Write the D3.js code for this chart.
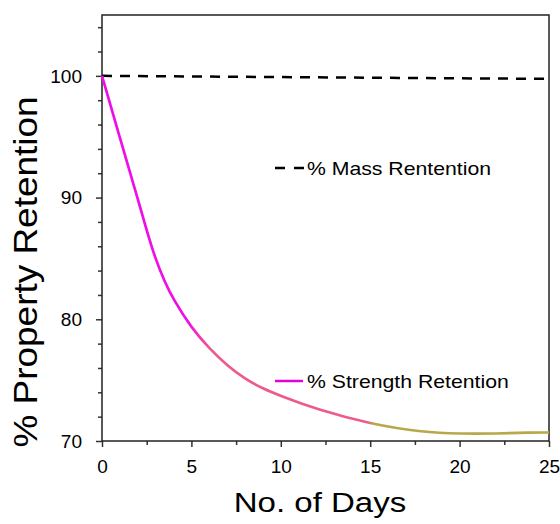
<!DOCTYPE html>
<html>
<head>
<meta charset="utf-8">
<script src="https://cdn.jsdelivr.net/npm/d3@7"></script>
<style>
body{margin:0;background:#fff;}
text{font-family:"Liberation Sans",Arial,sans-serif;fill:#000;}
</style>
</head>
<body>
<svg id="chart" width="560" height="524"></svg>
<script>
const days=[0,1,2,2.5,3,3.5,4,5,6,7,8,9,10,12,15,18,20,22,24,25];
const strength=[100,94.9,89.9,87.3,84.9,83.1,81.6,79.3,77.6,76.2,75.1,74.3,73.7,72.6,71.4,70.7,70.6,70.6,70.7,70.7];
const massDays=[0,5,10,15,20,25];
const mass=[100,99.95,99.9,99.85,99.8,99.75];
const xTicks=[0,5,10,15,20,25];
const yTicks=[70,80,90,100];

const W=560,H=524;
const margin={left:102,right:11,top:15,bottom:83};
const STRETCH=1.18; // text in the picture is wider than plain Arial
const svg=d3.select("#chart");

const x=d3.scaleLinear().domain([0,25]).range([margin.left,W-margin.right]);
const y=d3.scaleLinear().domain([70,105]).range([H-margin.bottom,margin.top]);

// ---------- gradient ----------
const grad=svg.append("defs").append("linearGradient")
    .attr("id","strengthGrad")
    .attr("gradientUnits","userSpaceOnUse")
    .attr("x1",x(0)).attr("x2",x(25))
    .attr("y1",0).attr("y2",0);
[[0,"#f00ee6"],[4.8,"#f00ee6"],[6,"#ee5a8c"],[14.8,"#ee5a8c"],[15.2,"#b7a84a"],[25,"#b7a84a"]]
.forEach(([d,c])=>grad.append("stop").attr("offset",d/25).attr("stop-color",c));

// ---------- axes ----------
const yAxis=svg.append("g")
    .attr("transform",`translate(${margin.left},0)`)
    .call(d3.axisLeft(y).tickValues(d3.range(70,105,2)).tickFormat("").tickSize(4));
yAxis.selectAll(".tick line").filter(d=>d%10===0).attr("x2",-6);
yAxis.selectAll(".tick")
    .filter(d=>yTicks.includes(d))
    .append("text")
    .attr("transform","translate(-20,0) scale(1.06,1)")
    .attr("dy","0.35em")
    .attr("text-anchor","end")
    .attr("font-size",18)
    .text(d=>d);

const xAxis=svg.append("g")
    .attr("transform",`translate(0,${H-margin.bottom})`)
    .call(d3.axisBottom(x).tickValues(d3.range(0,25.1,2.5)).tickFormat("").tickSize(4));
xAxis.selectAll(".tick line").filter(d=>d%5===0).attr("y2",6);
xAxis.selectAll(".tick")
    .filter(d=>xTicks.includes(d))
    .append("text")
    .attr("transform","translate(0,32) scale(1.06,1)")
    .attr("text-anchor","middle")
    .attr("font-size",18)
    .text(d=>d);

svg.selectAll(".domain").remove();
svg.selectAll(".tick line").attr("stroke","#333").attr("stroke-width",1.5);

// frame
svg.append("rect")
    .attr("x",x(0)).attr("y",y(105))
    .attr("width",x(25)-x(0)).attr("height",y(70)-y(105))
    .attr("fill","none").attr("stroke","#222").attr("stroke-width",1.5);

// ---------- lines ----------
const line=d3.line().curve(d3.curveMonotoneX);

svg.append("path")
    .attr("d",line(massDays.map((d,i)=>[x(d),y(mass[i])])))
    .attr("fill","none").attr("stroke","#000")
    .attr("stroke-width",2.5).attr("stroke-dasharray","10,8");

svg.append("path")
    .attr("d",d3.line().curve(d3.curveBasis)(days.map((d,i)=>[x(d),y(strength[i])])))
    .attr("fill","none").attr("stroke","url(#strengthGrad)")
    .attr("stroke-width",2.7);

// ---------- legend ----------
svg.append("line")
    .attr("x1",275).attr("x2",304).attr("y1",168).attr("y2",168)
    .attr("stroke","#000").attr("stroke-width",2.5).attr("stroke-dasharray","10,9");
svg.append("text")
    .attr("transform",`translate(307,174.5) scale(${STRETCH},1)`)
    .attr("font-size",18).text("% Mass Rentention");

svg.append("line")
    .attr("x1",275).attr("x2",303).attr("y1",381).attr("y2",381)
    .attr("stroke","#e600d8").attr("stroke-width",2.5);
svg.append("text")
    .attr("transform",`translate(307,387.5) scale(${STRETCH},1)`)
    .attr("font-size",18).text("% Strength Retention");

// ---------- titles ----------
svg.append("text")
    .attr("transform",`translate(320,512) scale(${STRETCH},1)`)
    .attr("text-anchor","middle").attr("font-size",28)
    .text("No. of Days");

svg.append("text")
    .attr("transform","translate(37,272) rotate(-90) scale(1.12,1)")
    .attr("text-anchor","middle").attr("font-size",33)
    .text("% Property Retention");
</script>
</body>
</html>
